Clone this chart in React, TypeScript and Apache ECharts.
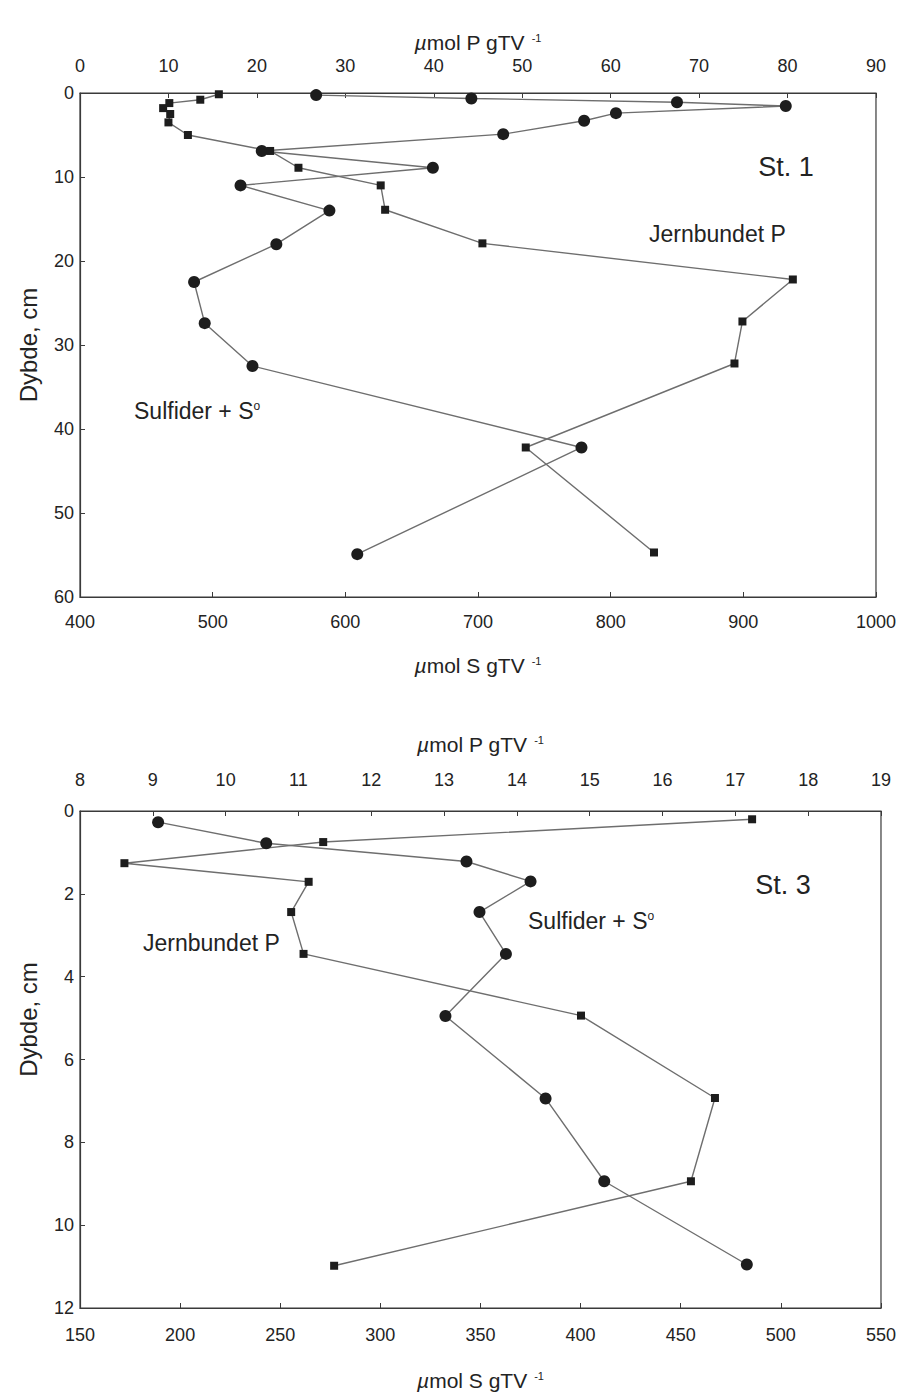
import React, { useEffect, useRef } from "react";
import * as echarts from "echarts";

// Station 1
const st1SulfDepth = [0.25, 0.65, 1.1, 1.55, 2.4, 3.3, 4.9, 6.9, 8.9, 11, 14, 18, 22.5, 27.4, 32.5, 42.2, 54.9];
const st1SulfS = [578, 695, 850, 932, 804, 780, 719, 537, 666, 521, 588, 548, 486, 494, 530, 778, 609];
const st1FeDepth = [0.15, 0.8, 1.2, 1.8, 2.5, 3.5, 5.0, 6.9, 8.9, 11, 13.9, 17.9, 22.2, 27.2, 32.2, 42.2, 54.7];
const st1FeP = [15.7, 13.6, 10.1, 9.4, 10.2, 10.0, 12.2, 21.5, 24.7, 34.0, 34.5, 45.5, 80.6, 74.9, 74.0, 50.4, 64.9];

// Station 3
const st3SulfDepth = [0.27, 0.78, 1.22, 1.7, 2.44, 3.45, 4.95, 6.94, 8.94, 10.95];
const st3SulfS = [189, 243, 343, 375, 349.5, 362.7, 332.5, 382.5, 411.8, 483];
const st3FeDepth = [0.2, 0.75, 1.26, 1.71, 2.44, 3.45, 4.94, 6.93, 8.94, 10.98];
const st3FeP = [17.23, 11.34, 8.61, 11.14, 10.9, 11.07, 14.88, 16.72, 16.39, 11.49];

const FONT = "'Liberation Sans', Arial, Helvetica, sans-serif";
const TXT = "#232323";
const AX = "#3a3a3a";

const zip = (xs: number[], ys: number[]) => xs.map((x, i) => [x, ys[i]]);

const unitName = (el: string) => `{mu|µ}{a|mol ${el} gTV}{s|-1}`;
const unitStyle = {
  fontSize: 21,
  fontFamily: FONT,
  color: TXT,
  rich: {
    mu: { fontSize: 21, fontFamily: FONT, fontStyle: "italic", color: TXT },
    a: { fontSize: 21, fontFamily: FONT, color: TXT },
    s: { fontSize: 11, fontFamily: FONT, color: TXT, verticalAlign: "top", padding: [0, 0, 0, 7] },
  },
};

const plain = (v: number) => String(v);

function xAxisCfg(grid: number, pos: "top" | "bottom", min: number, max: number, interval: number, el: string, nameGap: number, margin: number) {
  return {
    type: "value",
    gridIndex: grid,
    position: pos,
    min,
    max,
    interval,
    name: unitName(el),
    nameLocation: "middle",
    nameGap,
    nameTextStyle: unitStyle,
    axisLine: { show: true, onZero: false, lineStyle: { color: AX, width: 1.2 } },
    axisTick: { show: true, inside: true, length: 5, lineStyle: { color: AX } },
    axisLabel: { fontSize: 18, fontFamily: FONT, color: TXT, margin, formatter: plain },
    splitLine: { show: false },
  };
}

function yAxisCfg(grid: number, max: number, interval: number, padding: number[]) {
  return {
    type: "value",
    gridIndex: grid,
    inverse: true,
    min: 0,
    max,
    interval,
    name: "Dybde, cm",
    nameLocation: "middle",
    nameGap: 40,
    nameTextStyle: { fontSize: 24, fontFamily: FONT, color: TXT, padding },
    axisLine: { show: true, lineStyle: { color: AX, width: 1.2 } },
    axisTick: { show: true, inside: true, length: 5, lineStyle: { color: AX } },
    axisLabel: { fontSize: 18, fontFamily: FONT, color: TXT, margin: 6, formatter: plain },
    splitLine: { show: false },
  };
}

function lineSeries(xi: number, yi: number, data: number[][], symbol: string, size: number) {
  return {
    type: "line",
    xAxisIndex: xi,
    yAxisIndex: yi,
    data,
    symbol,
    symbolSize: size,
    showSymbol: true,
    clip: false,
    silent: true,
    lineStyle: { color: "#6e6e6e", width: 1.4 },
    itemStyle: { color: "#1d1d1d" },
    emphasis: { disabled: true },
  };
}

const sulfRich = {
  a: { fontSize: 23, fontFamily: FONT, fill: TXT, color: TXT },
  s: { fontSize: 12, fontFamily: FONT, fill: TXT, color: TXT, verticalAlign: "top" },
};

function label(x: number, y: number, text: string, size: number, align: string, rich?: any) {
  return {
    type: "text",
    x,
    y,
    silent: true,
    style: {
      text,
      font: `${size}px ${FONT}`,
      fill: TXT,
      align,
      textAlign: align,
      verticalAlign: "middle",
      textVerticalAlign: "middle",
      rich,
    },
  };
}

export default function App() {
  const ref = useRef<HTMLDivElement>(null);
  useEffect(() => {
    const chart = echarts.init(ref.current!, null, { renderer: "svg" });
    chart.setOption({
      animation: false,
      backgroundColor: "#ffffff",
      grid: [
        { left: 66, top: 85, width: 813, height: 504, show: true, borderColor: AX, borderWidth: 1.2, backgroundColor: "transparent" },
        { left: 69, top: 803, width: 812, height: 501, show: true, borderColor: AX, borderWidth: 1.2, backgroundColor: "transparent" },
      ],
      xAxis: [
        xAxisCfg(0, "bottom", 400, 1000, 100, "S", 58, 16),
        xAxisCfg(0, "top", 0, 90, 10, "P", 40, 18),
        xAxisCfg(1, "bottom", 150, 550, 50, "S", 62, 18),
        xAxisCfg(1, "top", 8, 19, 1, "P", 56, 22),
      ],
      yAxis: [yAxisCfg(0, 60, 10, [0, 0, 0, 0]), yAxisCfg(1, 12, 2, [0, 0, 0, 80])],
      series: [
        lineSeries(0, 0, zip(st1SulfS, st1SulfDepth), "circle", 12),
        lineSeries(1, 0, zip(st1FeP, st1FeDepth), "rect", 8),
        lineSeries(2, 1, zip(st3SulfS, st3SulfDepth), "circle", 12),
        lineSeries(3, 1, zip(st3FeP, st3FeDepth), "rect", 8),
      ],
      graphic: [
        label(778, 159, "St. 1", 27, "center"),
        label(641, 226, "Jernbundet P", 23, "left"),
        label(126, 403, "{a|Sulfider + S}{s|o}", 23, "left", sulfRich),
        label(775, 877, "St. 3", 27, "center"),
        label(520, 913, "{a|Sulfider + S}{s|o}", 23, "left", sulfRich),
        label(135, 935, "Jernbundet P", 23, "left"),
      ],
    });
    return () => chart.dispose();
  }, []);
  return <div ref={ref} style={{ width: 891, height: 1384 }} />;
}
